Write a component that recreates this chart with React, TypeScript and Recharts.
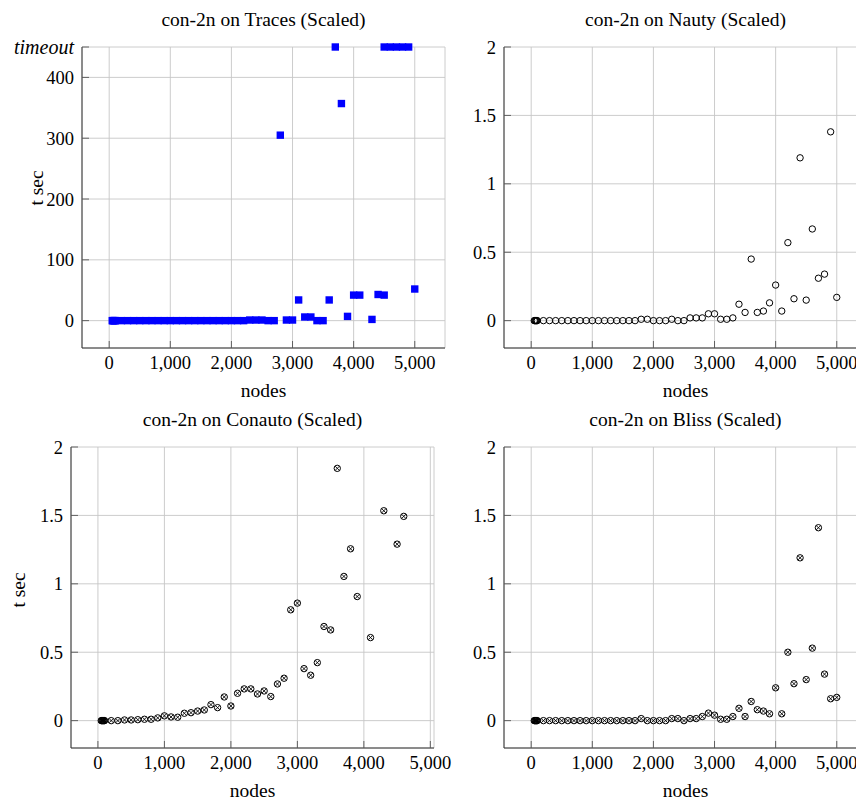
import React from 'react';
import { ScatterChart, Scatter, XAxis, YAxis, CartesianGrid } from 'recharts';

// ---------- data ----------
const nodes = [
  50, 60, 70, 80, 90, 100,
  200, 300, 400, 500, 600, 700, 800, 900, 1000, 1100, 1200, 1300, 1400, 1500, 1600, 1700,
  1800, 1900, 2000, 2100, 2200, 2300, 2400, 2500, 2600, 2700, 2800, 2900, 3000, 3100, 3200,
  3300, 3400, 3500, 3600, 3700, 3800, 3900, 4000, 4100, 4200, 4300, 4400, 4500, 4600, 4700,
  4800, 4900, 5000,
];

const TIMEOUT = 450;

const tracesSec: (number | null)[] = [
  0, 0, 0, 0, 0, 0,
  0, 0, 0, 0, 0, 0, 0, 0, 0, 0, 0, 0, 0, 0, 0, 0,
  0, 0, 0, 0, 0, 1, 1, 1, 0, 0, 305, 1, 1, 34, 6,
  6, 0, 0, 34, null, 357, 7, 42, 42, null, 2, 43, 42, null, null,
  null, null, 52,
];
const tracesTimeoutNodes = [3700, 4500, 4600, 4700, 4800, 4900];

const nautySec: (number | null)[] = [
  0, 0, 0, 0, 0, 0,
  0, 0, 0, 0, 0, 0, 0, 0, 0, 0, 0, 0, 0, 0, 0, 0,
  0.01, 0.01, 0, 0, 0, 0.01, 0, 0, 0.02, 0.02, 0.02, 0.05, 0.05, 0.01, 0.01,
  0.02, 0.12, 0.06, 0.45, 0.06, 0.07, 0.13, 0.26, 0.07, 0.57, 0.16, 1.19, 0.15, 0.67, 0.31,
  0.34, 1.38, 0.17,
];

const conautoSec: (number | null)[] = [
  0, 0, 0, 0, 0, 0,
  0, 0, 0.005, 0.005, 0.007, 0.01, 0.01, 0.02, 0.035, 0.027, 0.025, 0.054, 0.058, 0.07, 0.078, 0.117,
  0.095, 0.173, 0.107, 0.2, 0.232, 0.232, 0.195, 0.217, 0.176, 0.268, 0.31, 0.81, 0.859, 0.38, 0.332,
  0.424, 0.688, 0.663, 1.844, 1.054, 1.256, 0.907, null, 0.607, null, 1.534, null, 1.29, 1.493, null,
  null, null, null,
];

const blissSec: (number | null)[] = [
  0, 0, 0, 0, 0, 0,
  0, 0, 0, 0, 0, 0, 0, 0, 0, 0, 0, 0, 0, 0, 0, 0,
  0.015, 0, 0, 0, 0, 0.015, 0.015, 0, 0.015, 0.015, 0.03, 0.055, 0.04, 0.01, 0.01,
  0.03, 0.09, 0.03, 0.14, 0.08, 0.07, 0.05, 0.24, 0.05, 0.5, 0.27, 1.19, 0.3, 0.53, 1.41,
  0.34, 0.16, 0.17,
];

const xTicks = [0, 1000, 2000, 3000, 4000, 5000];
const tracesYTicks = [0, 100, 200, 300, 400, 450];
const scaledYTicks = [0, 0.5, 1, 1.5, 2];

const xDomainWide = [-445, 5495];
const xDomainConauto = [-405, 5055];
const tracesYDomain = [-45, 450];
const scaledYDomain = [-0.2, 2];

// ---------- helpers ----------
const FONT = '"Liberation Serif", "Times New Roman", Times, serif';
const PLOT_W = 363;
const PLOT_H = 301;
const YAXIS_W = 82;
const XAXIS_H = 50;
const M_TOP = 10;
const M_RIGHT = 30;

const toPoints = (vals: (number | null)[]) =>
  nodes
    .map((n, i) => ({ x: n, y: vals[i] }))
    .filter((p) => p.y !== null && p.y !== undefined);

const BlueSquare = (p: any) => (
  <rect x={p.cx - 3.7} y={p.cy - 3.7} width={7.4} height={7.4} fill="#0000ff" />
);

const OpenCircle = (p: any) => (
  <circle cx={p.cx} cy={p.cy} r={3.2} fill="none" stroke="#000" strokeWidth={1} />
);

const OTimes = (p: any) => {
  const r = 3.2;
  const d = r * 0.7071;
  return (
    <g>
      <circle cx={p.cx} cy={p.cy} r={r} fill="none" stroke="#000" strokeWidth={1} />
      <line x1={p.cx - d} y1={p.cy - d} x2={p.cx + d} y2={p.cy + d} stroke="#000" strokeWidth={0.9} />
      <line x1={p.cx - d} y1={p.cy + d} x2={p.cx + d} y2={p.cy - d} stroke="#000" strokeWidth={0.9} />
    </g>
  );
};

const fmtX = (v: number) => v.toLocaleString('en-US');

const XTick = (props: any) => {
  const { x, y, payload } = props;
  return (
    <text x={x} y={y} dy="0.71em" textAnchor="middle" fontFamily={FONT} fontSize={18.5} fill="#000">
      {fmtX(payload.value)}
    </text>
  );
};

const YTick = (props: any) => {
  const { x, y, payload } = props;
  const v = payload.value;
  const isT = v === TIMEOUT && props.timeout;
  return (
    <text
      x={x}
      y={y}
      dy="0.355em"
      textAnchor="end"
      fontFamily={FONT}
      fontSize={isT ? 20 : 18.5}
      fontStyle={isT ? 'italic' : 'normal'}
      fill="#000"
    >
      {isT ? 'timeout' : String(v)}
    </text>
  );
};

const TextLabel = ({ cx, cy, text, rotate = false, size = 19.5 }: any) => (
  <div
    style={{
      position: 'absolute',
      left: cx - 250,
      top: cy - 15,
      width: 500,
      height: 30,
      lineHeight: '30px',
      textAlign: 'center',
      whiteSpace: 'nowrap',
      fontFamily: FONT,
      fontSize: size,
      color: '#000',
      transform: rotate ? 'rotate(-90deg)' : undefined,
    }}
  >
    {text}
  </div>
);

type SeriesDef = { data: { x: number; y: number | null }[]; shape: any };

const Panel = ({
  plotLeft,
  plotTop,
  xDomain,
  yDomain,
  yTicks,
  series,
  timeoutTick,
}: {
  plotLeft: number;
  plotTop: number;
  xDomain: number[];
  yDomain: number[];
  yTicks: number[];
  series: SeriesDef[];
  timeoutTick?: boolean;
}) => {
  const W = YAXIS_W + PLOT_W + M_RIGHT;
  const H = M_TOP + PLOT_H + XAXIS_H;
  return (
    <div style={{ position: 'absolute', left: plotLeft - YAXIS_W, top: plotTop - M_TOP, width: W, height: H }}>
      <ScatterChart width={W} height={H} margin={{ top: M_TOP, right: M_RIGHT, bottom: 0, left: 0 }}>
        <CartesianGrid stroke="#c6c6c6" strokeWidth={0.9} />
        <XAxis
          type="number"
          dataKey="x"
          xAxisId={0}
          domain={xDomain}
          ticks={xTicks}
          interval={0}
          height={XAXIS_H}
          tickSize={-7}
          tickMargin={15}
          axisLine={{ stroke: '#333', strokeWidth: 1 }}
          tickLine={{ stroke: '#555', strokeWidth: 0.9 }}
          tick={<XTick />}
        />
        <XAxis
          type="number"
          xAxisId="top"
          orientation="top"
          domain={xDomain}
          ticks={xTicks}
          interval={0}
          height={0}
          tickSize={-7}
          axisLine={{ stroke: '#333', strokeWidth: 1 }}
          tickLine={{ stroke: '#555', strokeWidth: 0.9 }}
          tick={false}
        />
        <YAxis
          type="number"
          dataKey="y"
          yAxisId={0}
          domain={yDomain}
          ticks={yTicks}
          interval={0}
          width={YAXIS_W}
          tickSize={-7}
          tickMargin={15}
          axisLine={{ stroke: '#333', strokeWidth: 1 }}
          tickLine={{ stroke: '#555', strokeWidth: 0.9 }}
          tick={<YTick timeout={timeoutTick} />}
        />
        <YAxis
          type="number"
          yAxisId="right"
          orientation="right"
          domain={yDomain}
          ticks={yTicks}
          interval={0}
          width={0}
          tickSize={-7}
          axisLine={{ stroke: '#333', strokeWidth: 1 }}
          tickLine={{ stroke: '#555', strokeWidth: 0.9 }}
          tick={false}
        />
        {series.map((s, i) => (
          <Scatter key={i} data={s.data} xAxisId={0} yAxisId={0} shape={s.shape} isAnimationActive={false} />
        ))}
      </ScatterChart>
    </div>
  );
};

export default function App() {
  const tracesPts = toPoints(tracesSec);
  const tracesTimeoutPts = tracesTimeoutNodes.map((n) => ({ x: n, y: TIMEOUT }));

  const P1 = { l: 82, t: 47 };
  const P2 = { l: 504, t: 47 };
  const P3 = { l: 71, t: 447 };
  const P4 = { l: 504, t: 447 };
  const cx = (l: number) => l + PLOT_W / 2;

  return (
    <div
      style={{
        position: 'absolute',
        left: 0,
        top: 0,
        width: 856,
        height: 800,
        overflow: 'hidden',
        background: '#fff',
      }}
    >
      <Panel
        plotLeft={P1.l}
        plotTop={P1.t}
        xDomain={xDomainWide}
        yDomain={tracesYDomain}
        yTicks={tracesYTicks}
        timeoutTick
        series={[
          { data: tracesPts, shape: BlueSquare },
          { data: tracesTimeoutPts, shape: BlueSquare },
        ]}
      />
      <Panel
        plotLeft={P2.l}
        plotTop={P2.t}
        xDomain={xDomainWide}
        yDomain={scaledYDomain}
        yTicks={scaledYTicks}
        series={[{ data: toPoints(nautySec), shape: OpenCircle }]}
      />
      <Panel
        plotLeft={P3.l}
        plotTop={P3.t}
        xDomain={xDomainConauto}
        yDomain={scaledYDomain}
        yTicks={scaledYTicks}
        series={[{ data: toPoints(conautoSec), shape: OTimes }]}
      />
      <Panel
        plotLeft={P4.l}
        plotTop={P4.t}
        xDomain={xDomainWide}
        yDomain={scaledYDomain}
        yTicks={scaledYTicks}
        series={[{ data: toPoints(blissSec), shape: OTimes }]}
      />

      <TextLabel cx={cx(P1.l)} cy={20} text="con-2n on Traces (Scaled)" />
      <TextLabel cx={cx(P2.l)} cy={20} text="con-2n on Nauty (Scaled)" />
      <TextLabel cx={cx(P3.l)} cy={420} text="con-2n on Conauto (Scaled)" />
      <TextLabel cx={cx(P4.l)} cy={420} text="con-2n on Bliss (Scaled)" />

      <TextLabel cx={cx(P1.l)} cy={391} text="nodes" />
      <TextLabel cx={cx(P2.l)} cy={391} text="nodes" />
      <TextLabel cx={cx(P3.l)} cy={791} text="nodes" />
      <TextLabel cx={cx(P4.l)} cy={791} text="nodes" />

      <TextLabel cx={37} cy={188} text="t sec" rotate />
      <TextLabel cx={19} cy={590} text="t sec" rotate />
    </div>
  );
}
